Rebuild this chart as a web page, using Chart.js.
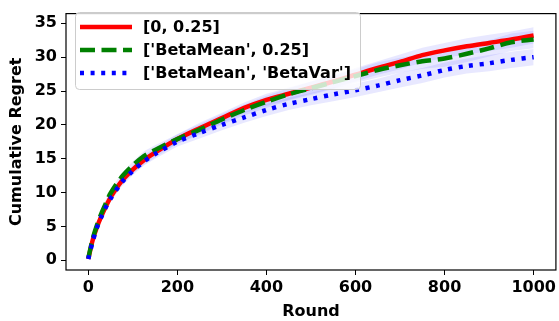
<!DOCTYPE html>
<html>
<head>
<meta charset="utf-8">
<script src="https://cdn.jsdelivr.net/npm/chart.js@4.4.0/dist/chart.umd.min.js"></script>
<style>
  html, body { margin: 0; padding: 0; background: #fff; }
  #wrap { width: 559px; height: 321px; position: relative; }
</style>
</head>
<body>
<div id="wrap"><canvas id="c"></canvas></div>
<script>
'use strict';

/* ── Data ──────────────────────────────────────────────── */
const rounds = [0, 10, 20, 30, 40, 50, 75, 100, 125, 150, 200, 250, 300, 350, 400,
                450, 500, 550, 600, 650, 700, 750, 800, 850, 900, 950, 1000];

const regretFixed = [0.2, 3.0, 5.0, 6.6, 8.0, 9.3, 11.7, 13.4, 14.8, 15.9, 17.9, 19.5, 21.0, 22.5, 23.7,
                     24.6, 25.5, 26.4, 27.4, 28.4, 29.3, 30.3, 31.0, 31.6, 32.1, 32.6, 33.2];
const regretBetaMean = [0.3, 3.2, 5.3, 7.0, 8.5, 9.9, 12.3, 14.0, 15.4, 16.3, 17.9, 19.3, 20.8, 22.2, 23.4,
                        24.5, 25.4, 26.3, 27.2, 28.1, 28.8, 29.4, 29.8, 30.5, 31.3, 32.2, 32.6];
const regretBetaVar = [0.2, 2.8, 4.9, 6.5, 7.9, 9.1, 11.5, 13.2, 14.6, 15.7, 17.5, 18.8, 20.0, 21.1, 22.2,
                       23.1, 23.8, 24.5, 25.1, 25.8, 26.6, 27.3, 28.1, 28.7, 29.1, 29.6, 30.0];

// half-width of the shaded band around each curve
const spreadFixed = [0.1, 0.3, 0.4, 0.4, 0.5, 0.5, 0.6, 0.6, 0.7, 0.7, 0.7, 0.8, 0.8, 0.8, 0.9,
                     0.9, 0.9, 1.0, 1.0, 1.0, 1.1, 1.1, 1.1, 1.2, 1.2, 1.2, 1.2];
const spreadBetaMean = [0.1, 0.3, 0.4, 0.4, 0.5, 0.5, 0.6, 0.6, 0.7, 0.7, 0.7, 0.8, 0.8, 0.8, 0.9,
                        0.9, 1.0, 1.0, 1.0, 1.1, 1.1, 1.1, 1.2, 1.2, 1.2, 1.3, 1.3];
const spreadBetaVar = [0.1, 0.3, 0.3, 0.4, 0.5, 0.5, 0.6, 0.6, 0.6, 0.7, 0.7, 0.8, 0.8, 0.8, 0.9,
                       0.9, 0.9, 1.0, 1.0, 1.0, 1.1, 1.1, 1.1, 1.1, 1.2, 1.2, 1.2];

const seriesLabels = ['[0, 0.25]', "['BetaMean', 0.25]", "['BetaMean', 'BetaVar']"];
const xTicks = [0, 200, 400, 600, 800, 1000];
const yTicks = [0, 5, 10, 15, 20, 25, 30, 35];

/* ── Styles ────────────────────────────────────────────── */
const FONT = 'DejaVu Sans';
const FS = 16;
const BAND = 'rgba(90,90,255,0.14)';
const STYLES = [
  { color: '#ff0000', dash: [] },
  { color: '#008000', dash: [15, 6.5] },
  { color: '#0000ff', dash: [4, 6.6] },
];

function pts(ys) { return rounds.map((r, i) => ({ x: r, y: ys[i] })); }
function shift(ys, sp, k) { return ys.map((v, i) => v + k * sp[i]); }

const curves = [
  [regretFixed, spreadFixed],
  [regretBetaMean, spreadBetaMean],
  [regretBetaVar, spreadBetaVar],
];

const datasets = [];
curves.forEach(([ys, sp]) => {
  datasets.push({
    data: pts(shift(ys, sp, 1)), borderWidth: 0, pointRadius: 0,
    backgroundColor: BAND, fill: '+1', order: 10,
  });
  datasets.push({
    data: pts(shift(ys, sp, -1)), borderWidth: 0, pointRadius: 0,
    backgroundColor: BAND, fill: false, order: 10,
  });
});
curves.forEach(([ys], i) => {
  datasets.push({
    label: seriesLabels[i],
    data: pts(ys),
    borderColor: STYLES[i].color,
    borderDash: STYLES[i].dash,
    borderWidth: 4.5,
    borderCapStyle: 'butt',
    pointRadius: 0,
    fill: false,
    tension: 0.3,
    order: 3 - i,
  });
});

/* ── Frame + legend plugin ─────────────────────────────── */
const framePlugin = {
  id: 'frame',
  afterDraw(chart) {
    const { ctx, chartArea: a } = chart;
    ctx.save();
    ctx.strokeStyle = '#000';
    ctx.lineWidth = 1.2;
    ctx.strokeRect(a.left, a.top, a.right - a.left, a.bottom - a.top);

    // legend box
    const bx = 75.5, by = 12.5, bw = 285, bh = 77;
    ctx.fillStyle = 'rgba(255,255,255,0.8)';
    ctx.strokeStyle = '#cccccc';
    ctx.lineWidth = 1;
    ctx.beginPath();
    ctx.roundRect(bx, by, bw, bh, 4);
    ctx.fill();
    ctx.stroke();

    ctx.font = `bold ${FS}px "${FONT}"`;
    ctx.textBaseline = 'middle';
    seriesLabels.forEach((lab, i) => {
      const y = 27 + i * 23;
      ctx.strokeStyle = STYLES[i].color;
      ctx.setLineDash(STYLES[i].dash);
      ctx.lineWidth = 4.5;
      ctx.lineCap = 'butt';
      ctx.beginPath();
      ctx.moveTo(80, y);
      ctx.lineTo(132, y);
      ctx.stroke();
      ctx.setLineDash([]);
      ctx.fillStyle = '#000';
      ctx.fillText(lab, 143, y + 1);
    });
    ctx.restore();
  }
};

/* ── Chart ─────────────────────────────────────────────── */
new Chart(document.getElementById('c'), {
  type: 'line',
  data: { datasets },
  plugins: [framePlugin],
  options: {
    responsive: true,
    maintainAspectRatio: false,
    animation: false,
    layout: { padding: { top: 5, right: 2, left: 7, bottom: 0 } },
    plugins: { legend: { display: false }, tooltip: { enabled: false } },
    scales: {
      x: {
        type: 'linear', min: -50, max: 1050,
        afterBuildTicks: s => { s.ticks = xTicks.map(v => ({ value: v })); },
        afterFit: s => { s.height = 51; },
        grid: { drawOnChartArea: false, tickLength: 5, color: '#000', tickColor: '#000' },
        border: { display: false },
        ticks: { color: '#000', padding: 3, maxRotation: 0, callback: v => String(v),
                 font: { family: FONT, size: FS, weight: 'bold' } },
        title: { display: true, text: 'Round', color: '#000', padding: { top: 0, bottom: 0 },
                 font: { family: FONT, size: FS, weight: 'bold' } },
      },
      y: {
        min: -1.43, max: 36.43,
        afterBuildTicks: s => { s.ticks = yTicks.map(v => ({ value: v })); },
        afterFit: s => { s.width = 59; },
        grid: { drawOnChartArea: false, tickLength: 5, color: '#000', tickColor: '#000' },
        border: { display: false },
        ticks: { color: '#000', padding: 4, callback: v => String(v),
                 font: { family: FONT, size: FS, weight: 'bold' } },
        title: { display: true, text: 'Cumulative Regret', color: '#000', padding: { top: 0, bottom: 2 },
                 font: { family: FONT, size: FS, weight: 'bold' } },
      }
    }
  }
});
</script>
</body>
</html>
